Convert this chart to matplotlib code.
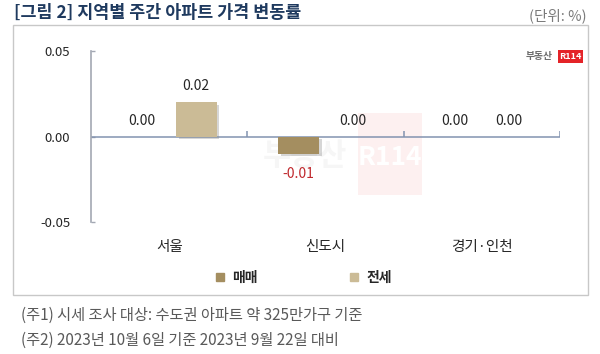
import matplotlib
matplotlib.use("Agg")
import matplotlib.pyplot as plt
import matplotlib.patheffects as pe
from matplotlib.patches import Rectangle
from matplotlib.lines import Line2D

plt.rcParams["font.family"] = ["Noto Sans CJK KR", "DejaVu Sans"]

# data
regions = ["서울", "신도시", "경기·인천"]
series_names = ["매매", "전세"]
sale = [0.00, -0.01, 0.00]
jeonse = [0.02, 0.00, 0.00]
y_ticks = [-0.05, 0.00, 0.05]

title = "[그림 2] 지역별 주간 아파트 가격 변동률"
unit = "(단위: %)"
notes = ["(주1) 시세 조사 대상: 수도권 아파트 약 325만가구 기준",
         "(주2) 2023년 10월 6일 기준 2023년 9월 22일 대비"]

c_sale = "#a48e60"
c_jeonse = "#cbbb96"

W, H = 600, 354
fig = plt.figure(figsize=(6.0, 3.54), dpi=100)


def fx(px):
    return px / W


def fy(py):
    return 1 - py / H


ax = fig.add_axes([fx(91), fy(222), fx(560 - 91), (222 - 51) / H])
ax.set_facecolor("none")

centers = [i + 0.5 for i in range(len(regions))]
off, bw = 0.173, 0.262
shadow = [pe.SimplePatchShadow(offset=(2, -2), shadow_rgbFace="#8a8a8a", alpha=0.35), pe.Normal()]

bars1 = ax.bar([c - off for c in centers], sale, bw, color=c_sale, zorder=3)
bars2 = ax.bar([c + off for c in centers], jeonse, bw, color=c_jeonse, zorder=3)
for b in list(bars1) + list(bars2):
    if b.get_height() != 0:
        b.set_path_effects(shadow)

for bars, vals in ((bars1, sale), (bars2, jeonse)):
    for b, v in zip(bars, vals):
        x = b.get_x() + b.get_width() / 2
        if v < 0:
            ax.annotate(f"{v:.2f}", (x, v), xytext=(0, -14.5), textcoords="offset points",
                        ha="center", va="center", fontsize=10, color="#c0282d", zorder=5)
        else:
            ax.annotate(f"{v:.2f}", (x, v), xytext=(0, 11.5), textcoords="offset points",
                        ha="center", va="center", fontsize=10, color="#262626", zorder=5)

ax.set_xlim(0, 3)
ax.set_ylim(-0.05, 0.05)
ax.set_yticks(y_ticks)
ax.set_yticklabels([f"{t:.2f}" for t in y_ticks])
ax.tick_params(axis="y", direction="in", length=3, width=1, color="#a3a8b3",
               labelsize=9.5, labelcolor="#262626", pad=15)
ax.set_xticks(centers)
ax.set_xticklabels(regions)
ax.tick_params(axis="x", length=0, labelsize=10.5, labelcolor="#262626", pad=13)

for s in ("top", "right", "bottom"):
    ax.spines[s].set_visible(False)
ax.spines["left"].set_color("#a3a8b3")
ax.spines["left"].set_linewidth(1.2)

# zero line with category boundary ticks
ax.axhline(0, color="#8393b0", lw=1.1, zorder=2)
ax.vlines([1, 2, 3], 0, 0.0035, color="#8393b0", lw=1.1, zorder=2)

# legend
handles = [Line2D([], [], marker="s", ls="none", color=c, markersize=6) for c in (c_sale, c_jeonse)]
leg = fig.legend(handles, series_names, loc="center", bbox_to_anchor=(fx(303), fy(278)),
                 ncol=2, frameon=False, handlelength=0.8, handletextpad=0.45, columnspacing=6.6,
                 prop={"size": 10, "weight": "bold"})
for t in leg.get_texts():
    t.set_color("#262626")

# frame around the chart
fig.patches.append(Rectangle((fx(13), fy(295)), fx(588 - 13), (295 - 25) / H,
                             transform=fig.transFigure, fill=False, ec="#c8c8c8", lw=1.0))

# watermark
fig.patches.append(Rectangle((fx(358), fy(195)), fx(64), 82 / H, transform=fig.transFigure,
                             fc="#fdf0f0", ec="none", zorder=-5))
fig.text(fx(305), fy(156), "부동산", ha="center", va="center", fontsize=22,
         fontweight="bold", color="#f6f6f6", zorder=-4)
fig.text(fx(390), fy(157), "R114", ha="center", va="center", fontsize=19,
         fontweight="bold", color="#ffffff", zorder=-4)

# logo
fig.patches.append(Rectangle((fx(558), fy(63)), fx(25), 13 / H, transform=fig.transFigure,
                             fc="#e42328", ec="none"))
fig.text(fx(570.5), fy(56.5), "R114", ha="center", va="center", fontsize=6.5,
         fontweight="bold", color="white")
fig.text(fx(553), fy(56), "부동산", ha="right", va="center", fontsize=7,
         fontweight="bold", color="#6e6e6e")

# title, unit, notes
fig.text(fx(14), fy(13), title, ha="left", va="center", fontsize=12.5,
         fontweight="bold", color="#1f3a5f")
fig.text(fx(587), fy(16), unit, ha="right", va="center", fontsize=10.5, color="#7a7a7a")
fig.text(fx(21), fy(315), notes[0], ha="left", va="center", fontsize=11, color="#595959")
fig.text(fx(21), fy(340), notes[1], ha="left", va="center", fontsize=11, color="#595959")

fig.savefig("out.png", dpi=100)
